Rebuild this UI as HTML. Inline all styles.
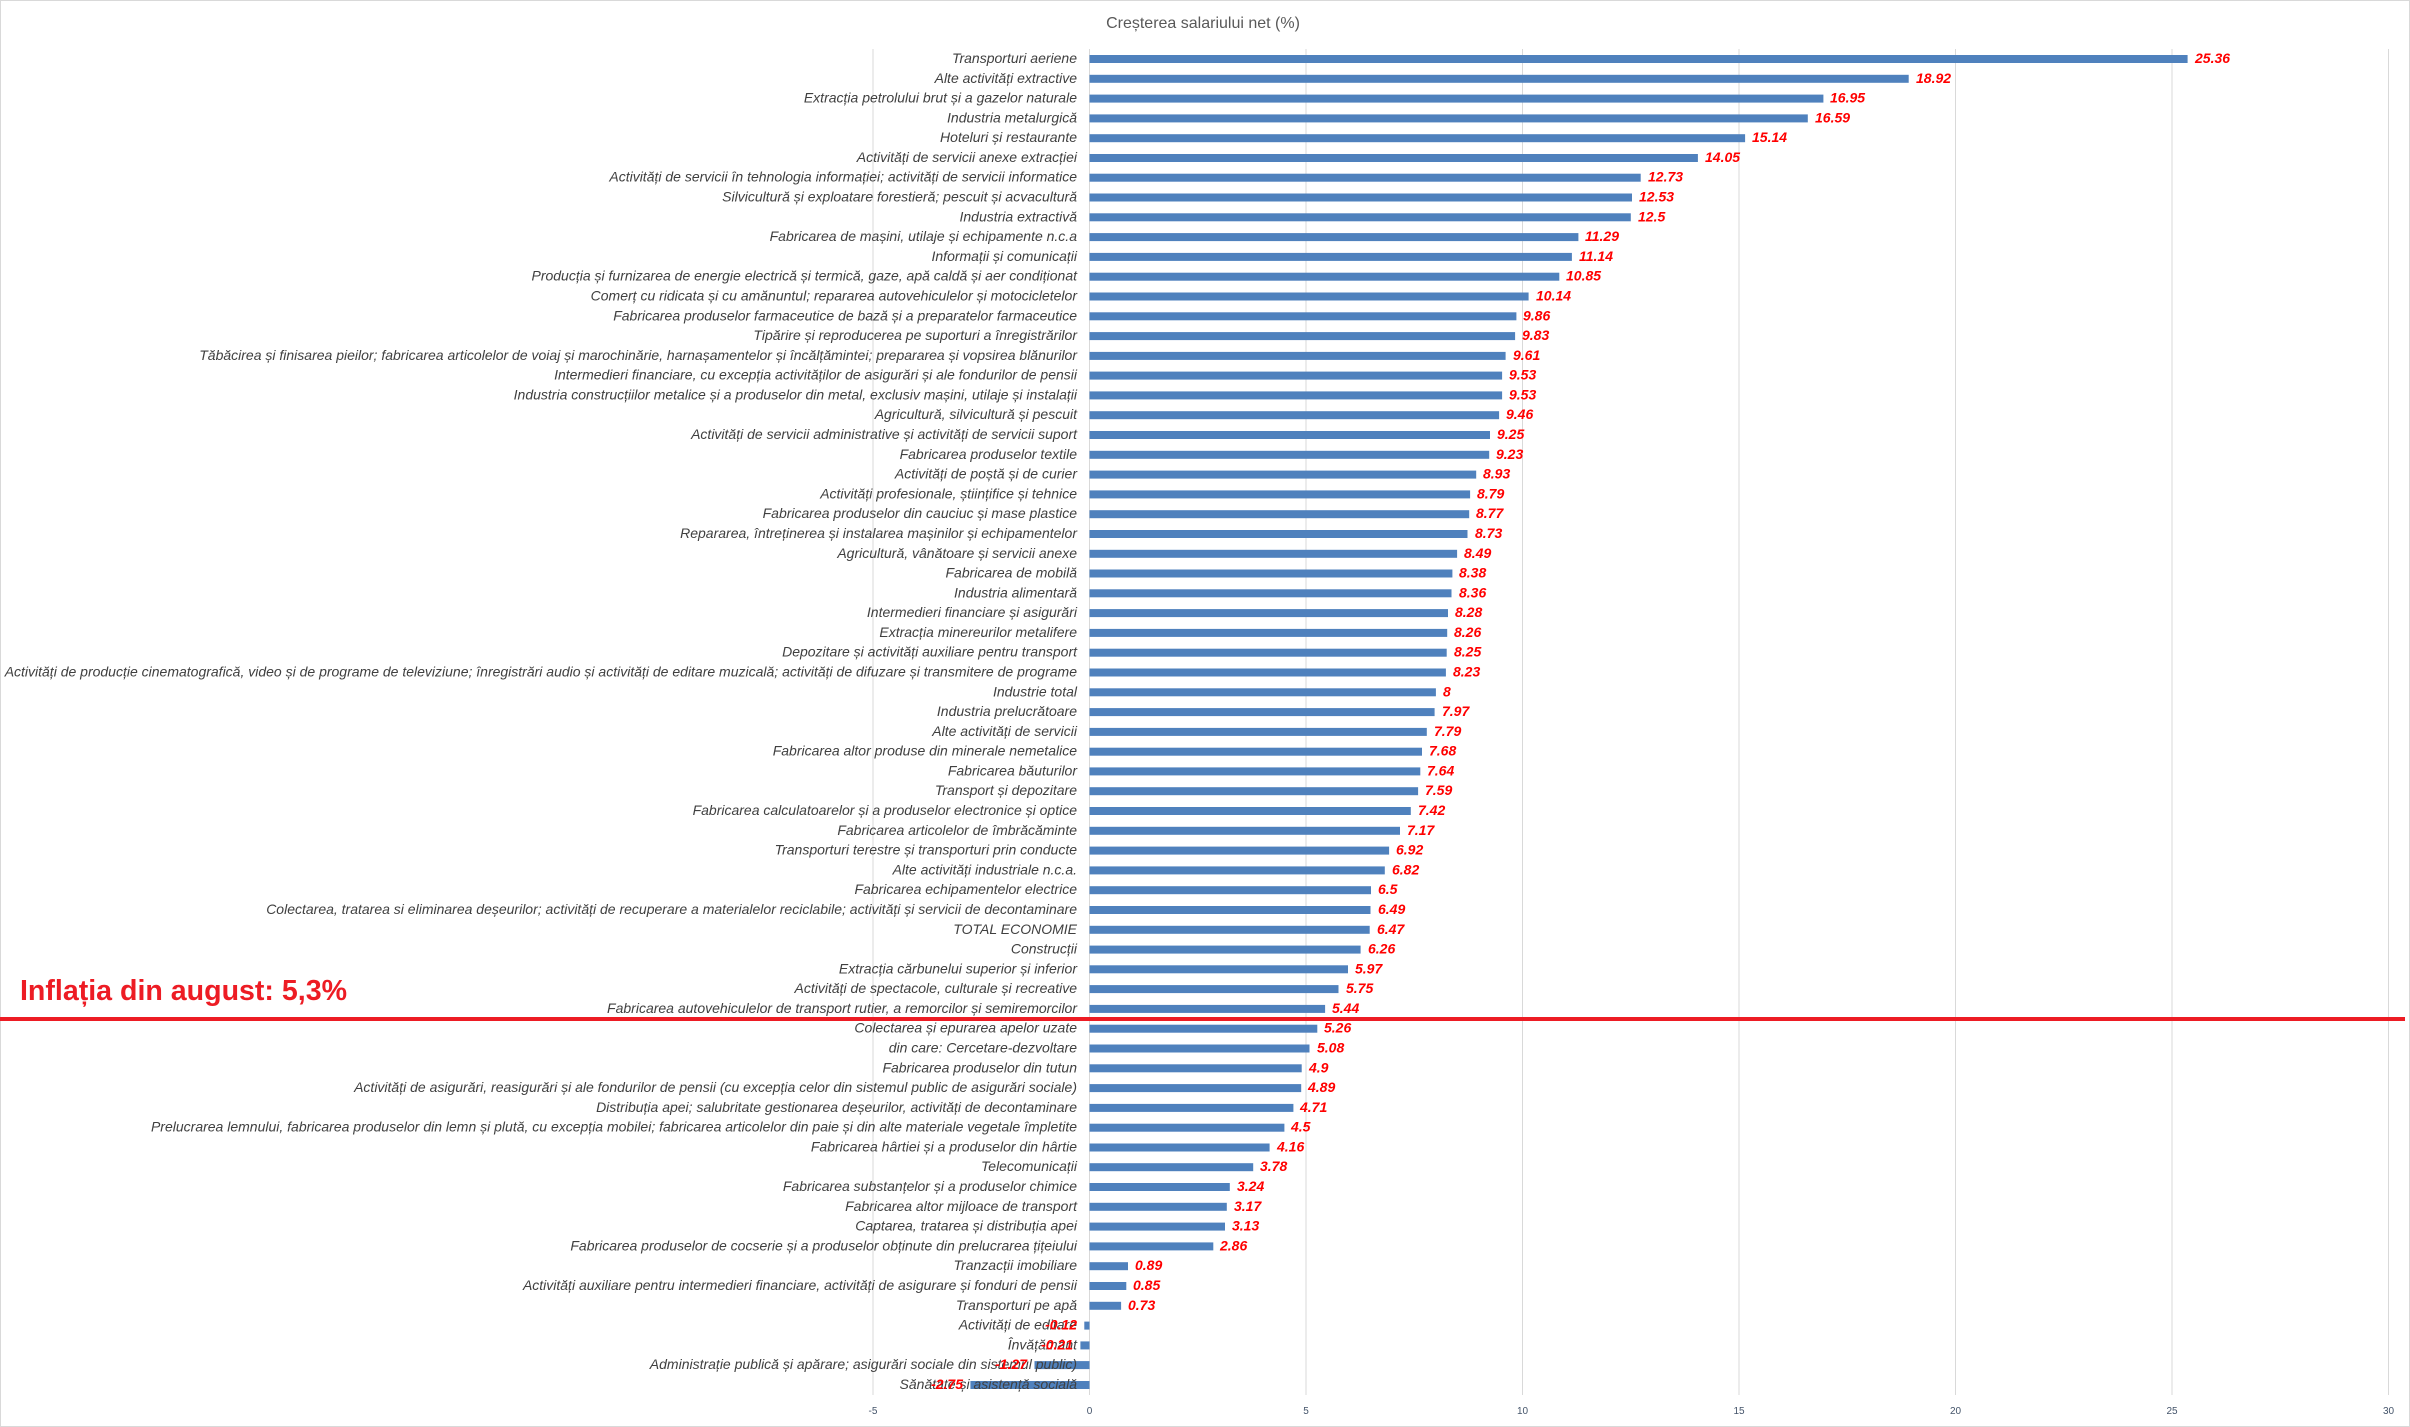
<!DOCTYPE html>
<html><head><meta charset="utf-8"><style>
html,body{margin:0;padding:0;background:#fff}
svg{display:block}
.c{font-family:"Liberation Sans",sans-serif;font-style:italic;font-size:14px;fill:#404040}
.v{font-family:"Liberation Sans",sans-serif;font-style:italic;font-weight:bold;font-size:14px;fill:#ff0000}
.t{font-family:"Liberation Sans",sans-serif;font-size:10px;fill:#44546a}
</style></head><body>
<svg width="2410" height="1427" viewBox="0 0 2410 1427" xmlns="http://www.w3.org/2000/svg">
<rect x="0.5" y="0.5" width="2409" height="1426" fill="#fff" stroke="#d9d9d9"/>
<text x="1203" y="28" text-anchor="middle" font-family="Liberation Sans, sans-serif" font-size="16" fill="#595959">Creșterea salariului net (%)</text>
<g stroke="#d9d9d9" stroke-width="1">
<line x1="873" y1="49" x2="873" y2="1395"/><line x1="1089.5" y1="49" x2="1089.5" y2="1395"/><line x1="1306" y1="49" x2="1306" y2="1395"/><line x1="1522.5" y1="49" x2="1522.5" y2="1395"/><line x1="1739" y1="49" x2="1739" y2="1395"/><line x1="1955.5" y1="49" x2="1955.5" y2="1395"/><line x1="2172" y1="49" x2="2172" y2="1395"/><line x1="2388.5" y1="49" x2="2388.5" y2="1395"/>
</g>
<g class="t" text-anchor="middle">
<text x="873" y="1414">-5</text><text x="1089.5" y="1414">0</text><text x="1306" y="1414">5</text><text x="1522.5" y="1414">10</text><text x="1739" y="1414">15</text><text x="1955.5" y="1414">20</text><text x="2172" y="1414">25</text><text x="2388.5" y="1414">30</text>
</g>
<g fill="#4f81bd">
<rect x="1089.5" y="55" width="1098.1" height="8"/>
<rect x="1089.5" y="74.8" width="819.2" height="8"/>
<rect x="1089.5" y="94.6" width="733.9" height="8"/>
<rect x="1089.5" y="114.4" width="718.3" height="8"/>
<rect x="1089.5" y="134.2" width="655.6" height="8"/>
<rect x="1089.5" y="154" width="608.4" height="8"/>
<rect x="1089.5" y="173.7" width="551.2" height="8"/>
<rect x="1089.5" y="193.5" width="542.5" height="8"/>
<rect x="1089.5" y="213.3" width="541.3" height="8"/>
<rect x="1089.5" y="233.1" width="488.9" height="8"/>
<rect x="1089.5" y="252.9" width="482.4" height="8"/>
<rect x="1089.5" y="272.7" width="469.8" height="8"/>
<rect x="1089.5" y="292.5" width="439.1" height="8"/>
<rect x="1089.5" y="312.3" width="426.9" height="8"/>
<rect x="1089.5" y="332.1" width="425.6" height="8"/>
<rect x="1089.5" y="351.9" width="416.1" height="8"/>
<rect x="1089.5" y="371.6" width="412.6" height="8"/>
<rect x="1089.5" y="391.4" width="412.6" height="8"/>
<rect x="1089.5" y="411.2" width="409.6" height="8"/>
<rect x="1089.5" y="431" width="400.5" height="8"/>
<rect x="1089.5" y="450.8" width="399.7" height="8"/>
<rect x="1089.5" y="470.6" width="386.7" height="8"/>
<rect x="1089.5" y="490.4" width="380.6" height="8"/>
<rect x="1089.5" y="510.2" width="379.7" height="8"/>
<rect x="1089.5" y="530" width="378" height="8"/>
<rect x="1089.5" y="549.8" width="367.6" height="8"/>
<rect x="1089.5" y="569.5" width="362.9" height="8"/>
<rect x="1089.5" y="589.3" width="362" height="8"/>
<rect x="1089.5" y="609.1" width="358.5" height="8"/>
<rect x="1089.5" y="628.9" width="357.7" height="8"/>
<rect x="1089.5" y="648.7" width="357.2" height="8"/>
<rect x="1089.5" y="668.5" width="356.4" height="8"/>
<rect x="1089.5" y="688.3" width="346.4" height="8"/>
<rect x="1089.5" y="708.1" width="345.1" height="8"/>
<rect x="1089.5" y="727.9" width="337.3" height="8"/>
<rect x="1089.5" y="747.7" width="332.5" height="8"/>
<rect x="1089.5" y="767.4" width="330.8" height="8"/>
<rect x="1089.5" y="787.2" width="328.6" height="8"/>
<rect x="1089.5" y="807" width="321.3" height="8"/>
<rect x="1089.5" y="826.8" width="310.5" height="8"/>
<rect x="1089.5" y="846.6" width="299.6" height="8"/>
<rect x="1089.5" y="866.4" width="295.3" height="8"/>
<rect x="1089.5" y="886.2" width="281.5" height="8"/>
<rect x="1089.5" y="906" width="281" height="8"/>
<rect x="1089.5" y="925.8" width="280.2" height="8"/>
<rect x="1089.5" y="945.6" width="271.1" height="8"/>
<rect x="1089.5" y="965.3" width="258.5" height="8"/>
<rect x="1089.5" y="985.1" width="249" height="8"/>
<rect x="1089.5" y="1004.9" width="235.6" height="8"/>
<rect x="1089.5" y="1024.7" width="227.8" height="8"/>
<rect x="1089.5" y="1044.5" width="220" height="8"/>
<rect x="1089.5" y="1064.3" width="212.2" height="8"/>
<rect x="1089.5" y="1084.1" width="211.7" height="8"/>
<rect x="1089.5" y="1103.9" width="203.9" height="8"/>
<rect x="1089.5" y="1123.7" width="194.9" height="8"/>
<rect x="1089.5" y="1143.5" width="180.1" height="8"/>
<rect x="1089.5" y="1163.2" width="163.7" height="8"/>
<rect x="1089.5" y="1183" width="140.3" height="8"/>
<rect x="1089.5" y="1202.8" width="137.3" height="8"/>
<rect x="1089.5" y="1222.6" width="135.5" height="8"/>
<rect x="1089.5" y="1242.4" width="123.8" height="8"/>
<rect x="1089.5" y="1262.2" width="38.5" height="8"/>
<rect x="1089.5" y="1282" width="36.8" height="8"/>
<rect x="1089.5" y="1301.8" width="31.6" height="8"/>
<rect x="1084.3" y="1321.6" width="5.2" height="8"/>
<rect x="1080.4" y="1341.4" width="9.1" height="8"/>
<rect x="1034.5" y="1361.1" width="55" height="8"/>
<rect x="970.4" y="1381" width="119.1" height="8"/>
</g>
<g transform="translate(1077,0) scale(1.0,1)" class="c" text-anchor="end">
<text x="0" y="63">Transporturi aeriene</text>
<text x="0" y="82.8">Alte activități extractive</text>
<text x="0" y="102.6">Extracția petrolului brut și a gazelor naturale</text>
<text x="0" y="122.4">Industria metalurgică</text>
<text x="0" y="142.2">Hoteluri și restaurante</text>
<text x="0" y="162">Activități de servicii anexe extracției</text>
<text x="0" y="181.7">Activități de servicii în tehnologia informației; activități de servicii informatice</text>
<text x="0" y="201.5">Silvicultură și exploatare forestieră; pescuit și acvacultură</text>
<text x="0" y="221.3">Industria extractivă</text>
<text x="0" y="241.1">Fabricarea de mașini, utilaje și echipamente n.c.a</text>
<text x="0" y="260.9">Informații și comunicații</text>
<text x="0" y="280.7">Producția și furnizarea de energie electrică și termică, gaze, apă caldă și aer condiționat</text>
<text x="0" y="300.5">Comerț cu ridicata și cu amănuntul; repararea autovehiculelor și motocicletelor</text>
<text x="0" y="320.3">Fabricarea produselor farmaceutice de bază și a preparatelor farmaceutice</text>
<text x="0" y="340.1">Tipărire și reproducerea pe suporturi a înregistrărilor</text>
<text x="0" y="359.9">Tăbăcirea și finisarea pieilor; fabricarea articolelor de voiaj și marochinărie, harnașamentelor și încălțămintei; prepararea și vopsirea blănurilor</text>
<text x="0" y="379.6">Intermedieri financiare, cu excepția activităților de asigurări și ale fondurilor de pensii</text>
<text x="0" y="399.4">Industria construcțiilor metalice și a produselor din metal, exclusiv mașini, utilaje și instalații</text>
<text x="0" y="419.2">Agricultură, silvicultură și pescuit</text>
<text x="0" y="439">Activități de servicii administrative și activități de servicii suport</text>
<text x="0" y="458.8">Fabricarea produselor textile</text>
<text x="0" y="478.6">Activități de poștă și de curier</text>
<text x="0" y="498.4">Activități profesionale, științifice și tehnice</text>
<text x="0" y="518.2">Fabricarea produselor din cauciuc și mase plastice</text>
<text x="0" y="538">Repararea, întreținerea și instalarea mașinilor și echipamentelor</text>
<text x="0" y="557.8">Agricultură, vânătoare și servicii anexe</text>
<text x="0" y="577.5">Fabricarea de mobilă</text>
<text x="0" y="597.3">Industria alimentară</text>
<text x="0" y="617.1">Intermedieri financiare și asigurări</text>
<text x="0" y="636.9">Extracția minereurilor metalifere</text>
<text x="0" y="656.7">Depozitare și activități auxiliare pentru transport</text>
<text x="0" y="676.5">Activități de producție cinematografică, video și de programe de televiziune; înregistrări audio și activități de editare muzicală; activități de difuzare și transmitere de programe</text>
<text x="0" y="696.3">Industrie total</text>
<text x="0" y="716.1">Industria prelucrătoare</text>
<text x="0" y="735.9">Alte activități de servicii</text>
<text x="0" y="755.7">Fabricarea altor produse din minerale nemetalice</text>
<text x="0" y="775.4">Fabricarea băuturilor</text>
<text x="0" y="795.2">Transport și depozitare</text>
<text x="0" y="815">Fabricarea calculatoarelor și a produselor electronice și optice</text>
<text x="0" y="834.8">Fabricarea articolelor de îmbrăcăminte</text>
<text x="0" y="854.6">Transporturi terestre și transporturi prin conducte</text>
<text x="0" y="874.4">Alte activități industriale n.c.a.</text>
<text x="0" y="894.2">Fabricarea echipamentelor electrice</text>
<text x="0" y="914">Colectarea, tratarea si eliminarea deșeurilor; activități de recuperare a materialelor reciclabile; activități și servicii de decontaminare</text>
<text x="0" y="933.8">TOTAL ECONOMIE</text>
<text x="0" y="953.6">Construcții</text>
<text x="0" y="973.3">Extracția cărbunelui superior și inferior</text>
<text x="0" y="993.1">Activități de spectacole, culturale și recreative</text>
<text x="0" y="1012.9">Fabricarea autovehiculelor de transport rutier, a remorcilor și semiremorcilor</text>
<text x="0" y="1032.7">Colectarea și epurarea apelor uzate</text>
<text x="0" y="1052.5">din care: Cercetare-dezvoltare</text>
<text x="0" y="1072.3">Fabricarea produselor din tutun</text>
<text x="0" y="1092.1">Activități de asigurări, reasigurări și ale fondurilor de pensii (cu excepția celor din sistemul public de asigurări sociale)</text>
<text x="0" y="1111.9">Distribuția apei; salubritate gestionarea deșeurilor, activități de decontaminare</text>
<text x="0" y="1131.7">Prelucrarea lemnului, fabricarea produselor din lemn și plută, cu excepția mobilei; fabricarea articolelor din paie și din alte materiale vegetale împletite</text>
<text x="0" y="1151.5">Fabricarea hârtiei și a produselor din hârtie</text>
<text x="0" y="1171.2">Telecomunicații</text>
<text x="0" y="1191">Fabricarea substanțelor și a produselor chimice</text>
<text x="0" y="1210.8">Fabricarea altor mijloace de transport</text>
<text x="0" y="1230.6">Captarea, tratarea și distribuția apei</text>
<text x="0" y="1250.4">Fabricarea produselor de cocserie și a produselor obținute din prelucrarea țițeiului</text>
<text x="0" y="1270.2">Tranzacții imobiliare</text>
<text x="0" y="1290">Activități auxiliare pentru intermedieri financiare, activități de asigurare și fonduri de pensii</text>
<text x="0" y="1309.8">Transporturi pe apă</text>
<text x="0" y="1329.6">Activități de editare</text>
<text x="0" y="1349.4">Învățământ</text>
<text x="0" y="1369.1">Administrație publică și apărare; asigurări sociale din sistemul public)</text>
<text x="0" y="1389">Sănătate și asistență socială</text>
</g>
<g class="v">
<text x="2195" y="63">25.36</text>
<text x="1916" y="82.8">18.92</text>
<text x="1830" y="102.6">16.95</text>
<text x="1815" y="122.4">16.59</text>
<text x="1752" y="142.2">15.14</text>
<text x="1705" y="162">14.05</text>
<text x="1648" y="181.7">12.73</text>
<text x="1639" y="201.5">12.53</text>
<text x="1638" y="221.3">12.5</text>
<text x="1585" y="241.1">11.29</text>
<text x="1579" y="260.9">11.14</text>
<text x="1566" y="280.7">10.85</text>
<text x="1536" y="300.5">10.14</text>
<text x="1523" y="320.3">9.86</text>
<text x="1522" y="340.1">9.83</text>
<text x="1513" y="359.9">9.61</text>
<text x="1509" y="379.6">9.53</text>
<text x="1509" y="399.4">9.53</text>
<text x="1506" y="419.2">9.46</text>
<text x="1497" y="439">9.25</text>
<text x="1496" y="458.8">9.23</text>
<text x="1483" y="478.6">8.93</text>
<text x="1477" y="498.4">8.79</text>
<text x="1476" y="518.2">8.77</text>
<text x="1475" y="538">8.73</text>
<text x="1464" y="557.8">8.49</text>
<text x="1459" y="577.5">8.38</text>
<text x="1459" y="597.3">8.36</text>
<text x="1455" y="617.1">8.28</text>
<text x="1454" y="636.9">8.26</text>
<text x="1454" y="656.7">8.25</text>
<text x="1453" y="676.5">8.23</text>
<text x="1443" y="696.3">8</text>
<text x="1442" y="716.1">7.97</text>
<text x="1434" y="735.9">7.79</text>
<text x="1429" y="755.7">7.68</text>
<text x="1427" y="775.4">7.64</text>
<text x="1425" y="795.2">7.59</text>
<text x="1418" y="815">7.42</text>
<text x="1407" y="834.8">7.17</text>
<text x="1396" y="854.6">6.92</text>
<text x="1392" y="874.4">6.82</text>
<text x="1378" y="894.2">6.5</text>
<text x="1378" y="914">6.49</text>
<text x="1377" y="933.8">6.47</text>
<text x="1368" y="953.6">6.26</text>
<text x="1355" y="973.3">5.97</text>
<text x="1346" y="993.1">5.75</text>
<text x="1332" y="1012.9">5.44</text>
<text x="1324" y="1032.7">5.26</text>
<text x="1317" y="1052.5">5.08</text>
<text x="1309" y="1072.3">4.9</text>
<text x="1308" y="1092.1">4.89</text>
<text x="1300" y="1111.9">4.71</text>
<text x="1291" y="1131.7">4.5</text>
<text x="1277" y="1151.5">4.16</text>
<text x="1260" y="1171.2">3.78</text>
<text x="1237" y="1191">3.24</text>
<text x="1234" y="1210.8">3.17</text>
<text x="1232" y="1230.6">3.13</text>
<text x="1220" y="1250.4">2.86</text>
<text x="1135" y="1270.2">0.89</text>
<text x="1133" y="1290">0.85</text>
<text x="1128" y="1309.8">0.73</text>
<g text-anchor="end">
<text x="1077" y="1329.6">-0.12</text>
<text x="1073" y="1349.4">-0.21</text>
<text x="1027" y="1369.1">-1.27</text>
<text x="963" y="1389">-2.75</text>
</g>
</g>
<rect x="0" y="1017" width="2405" height="4" fill="#ed1c24"/>
<text x="20" y="1000" font-family="Liberation Sans, sans-serif" font-weight="bold" font-size="29" fill="#ed1c24" textLength="327" lengthAdjust="spacingAndGlyphs">Inflația din august: 5,3%</text>
</svg>
</body></html>
